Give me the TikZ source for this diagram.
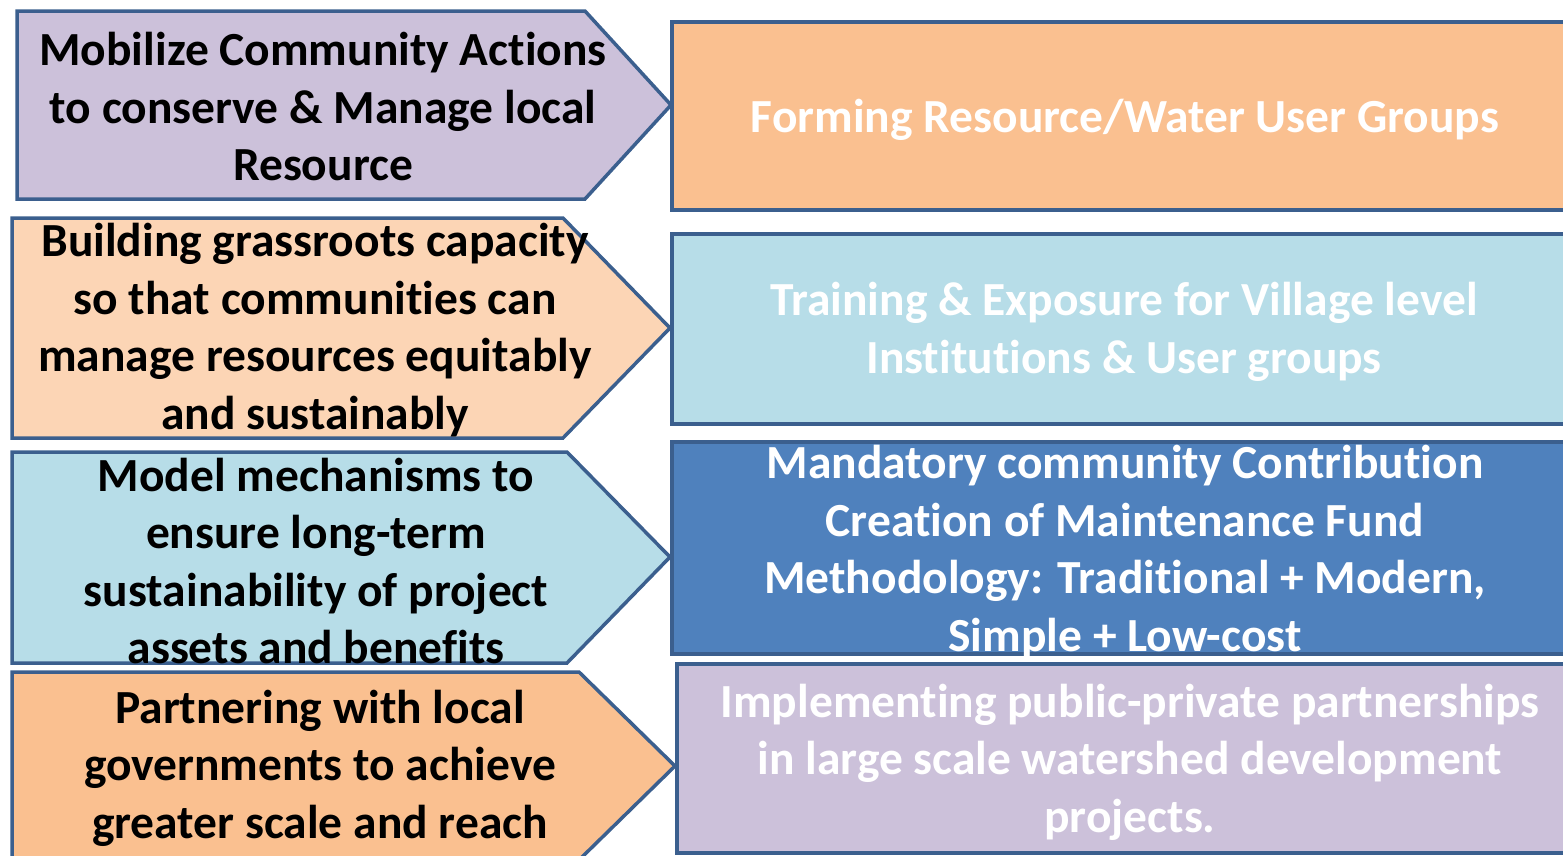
\documentclass[tikz,border=0pt]{standalone}
\usepackage{fontspec}
\setmainfont{Carlito}[Ligatures={NoCommon}]
\definecolor{edge}{HTML}{3B5F8E}
\definecolor{lav}{HTML}{CCC1DA}
\definecolor{peach}{HTML}{FCD5B5}
\definecolor{lblue}{HTML}{B7DDE8}
\definecolor{orng}{HTML}{FAC090}
\definecolor{dblue}{HTML}{4F81BD}
\begin{document}
\begin{tikzpicture}[x=1pt,y=-1pt,
  shp/.style={draw=edge,line width=3.5pt,line join=miter},
  lbl/.style={font=\fontsize{47.5}{57.5}\selectfont\bfseries, align=center, inner sep=0pt},
  wlbl/.style={lbl,text=white}]
\useasboundingbox (0,0) rectangle (1563,855);
\begin{scope}
\clip (0,0) rectangle (1563,855);
% left pentagons
\path[shp,fill=lav]   (17,11) -- (585,11) -- (671,105) -- (585,199) -- (17,199) -- cycle;
\path[shp,fill=peach] (12,218) -- (563,218) -- (670,328) -- (563,438) -- (12,438) -- cycle;
\path[shp,fill=lblue] (12,452) -- (567,452) -- (670,557) -- (567,663) -- (12,663) -- cycle;
\path[shp,fill=orng]  (12,672) -- (579,672) -- (675,766) -- (579,860) -- (12,860) -- cycle;
% right boxes
\path[shp,fill=orng]  (672,22) rectangle (1580,210);
\path[shp,fill=lblue] (672,234) rectangle (1580,424);
\path[shp,fill=dblue] (672,442) rectangle (1580,654);
\path[shp,fill=lav]   (677,664) rectangle (1585,853);
% left texts
\node[lbl] (l1) at (323,107) {Mobilize Community Actions\\to conserve \& Manage local\\Resource};
\node[lbl] (l2) at (315,330) {Building grassroots capacity\\so that communities can\\manage resources equitably\\and sustainably};
\node[lbl] (l3) at (316,561) {Model mechanisms to\\ensure long-term\\sustainability of project\\assets and benefits};
\node[lbl] (l4) at (320,768) {Partnering with local\\governments to achieve\\greater scale and reach};
% right texts
\node[wlbl] (r1) at (1125,120) {Forming Resource/Water User Groups};
\node[wlbl] (r2) at (1124,332) {Training \& Exposure for Village level\\Institutions \& User groups};
\node[wlbl] (r3) at (1125,552) {Mandatory community Contribution\\Creation of Maintenance Fund\\Methodology: Traditional + Modern,\\Simple + Low-cost};
\node[wlbl] (r4) at (1130,762) {Implementing public-private partnerships\\in large scale watershed development\\projects.};
\end{scope}
\end{tikzpicture}
\end{document}
